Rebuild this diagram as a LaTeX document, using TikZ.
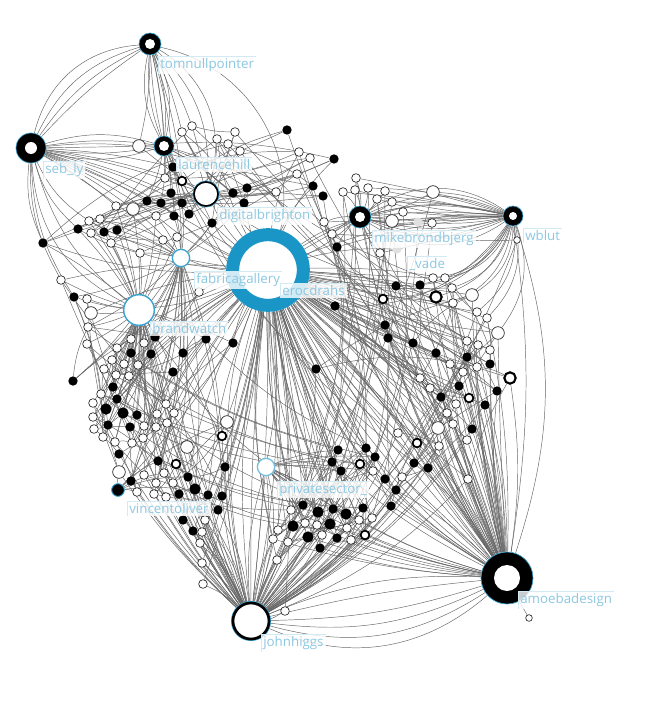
\documentclass[tikz,border=0pt]{standalone}
\usepackage{fontspec}
\setmainfont{Open Sans}
\usetikzlibrary{backgrounds}

\definecolor{ringblue}{HTML}{1A96C6}
\definecolor{hubblue}{HTML}{3BA3CF}
\definecolor{lblblue}{HTML}{8CC8E2}
\definecolor{lblrulecol}{HTML}{D2EAF4}

\tikzset{
  link/.style={draw=black!60, line width=0.35pt},
  wn/.style={circle, draw=black!85, fill=white, line width=0.5pt, inner sep=0pt, minimum size=6.5pt},
  wl/.style={wn, minimum size=9.5pt},
  ws/.style={wn, minimum size=5pt},
  bn/.style={circle, fill=black, inner sep=0pt, minimum size=7pt},
  bl/.style={bn, minimum size=8.5pt},
  rn/.style={circle, draw=black, fill=white, line width=1.3pt, inner sep=0pt, minimum size=6.5pt},
  rl/.style={rn, line width=1.6pt, minimum size=8.5pt},
  gn/.style={circle, fill=black!12, inner sep=0pt, minimum size=7pt},
  hub/.style 2 args={circle, inner sep=0pt, minimum size=#1, fill=black, draw=hubblue, line width=0.5pt,
    path picture={\fill[white] (path picture bounding box.center) circle (#2);}},
  openhub/.style={circle, inner sep=0pt, fill=white, draw=hubblue, line width=1pt},
  lblrule/.style={draw=lblrulecol, line width=0.6pt},
  lbl/.style={anchor=north west, text=lblblue, font=\fontsize{10}{12}\selectfont, inner sep=1.5pt,
    fill=white, fill opacity=0.8, text opacity=1,
    append after command={(\tikzlastnode.south west) edge[lblrule] (\tikzlastnode.north west)
      (\tikzlastnode.north west) edge[lblrule] (\tikzlastnode.north east)}},
}

\begin{document}
\begin{tikzpicture}[x=0.75pt, y=-0.75pt]
  \useasboundingbox (0,0) rectangle (646,720);

  % hubs
  \node[hub={16.5pt}{3.75pt}] (tom) at (150,44) {};
  \node[hub={22.5pt}{4.5pt}] (seb) at (31,148) {};
  \node[hub={15pt}{3.75pt}] (laurence) at (164,146) {};
  \node[hub={16.5pt}{3.75pt}] (mike) at (360,217) {};
  \node[hub={15pt}{3pt}] (wblut) at (513,216) {};
  \node[hub={39pt}{9.75pt}] (amoeba) at (507,578) {};
  \node[circle, inner sep=0pt, minimum size=53pt, draw=ringblue, line width=9.75pt, fill=white] (shard) at (268,270) {};
  \node[circle, inner sep=0pt, minimum size=27pt, fill=white, draw=black, line width=2pt,
    preaction={draw=hubblue, line width=3pt}] (john) at (251,621) {};
  \node[circle, inner sep=0pt, minimum size=18pt, fill=white, draw=black, line width=1.2pt,
    preaction={draw=hubblue, line width=2.2pt}] (digital) at (206,194) {};
  \node[openhub, minimum size=23pt, line width=1.1pt] (brand) at (139,310) {};
  \node[openhub, minimum size=13pt] (fabrica) at (181,258) {};
  \node[openhub, minimum size=13pt, draw=hubblue!70] (privsec) at (266,467) {};
  \node[circle, inner sep=0pt, minimum size=9.5pt, fill=black, draw=hubblue, line width=0.7pt] (vincent) at (118,490) {};
  \node[gn] (vade) at (397,249) {};

  % small nodes, top left
  \foreach \x/\y/\s [count=\i] in {139/146/wl, 182/132/wn, 192/126/wn, 235/132/wn, 287/130/bn,
      217/139/wn, 228/144/wn, 240/151/wn, 299/152/wn, 310/158/wn, 297/174/wn, 313/186/bn,
      323/196/bn, 182/181/rn, 173/167/bn, 165/178/wn, 171/193/bn, 161/203/bn, 182/203/bn,
      189/214/bn, 174/216/bn, 147/201/bn, 233/193/bn, 247/188/bn, 244/203/bn, 276/192/wn,
      212/223/bn, 116/206/wn, 133/209/wl, 89/221/wn, 100/219/wn, 78/229/bn, 91/233/wn,
      104/232/bn, 117/230/bn, 43/243/bn, 163/240/wn, 177/237/wn, 156/216/wn, 111/243/wn,
      140/253/wn, 334/159/bn}
    \node[\s] (a\i) at (\x,\y) {};
  % small nodes, top right
  \foreach \x/\y/\s [count=\i] in {343/192/wn, 355/190/wn, 368/188/wn, 385/191/wn, 377/199/wn,
      392/202/wn, 403/212/wn, 433/192/wl, 392/221/wl, 432/223/wn, 418/222/gn, 324/222/wn,
      332/234/wn, 337/247/bn, 380/253/wn, 517/240/ws, 356/178/wn}
    \node[\s] (b\i) at (\x,\y) {};
  % small nodes, right
  \foreach \x/\y/\s [count=\i] in {396/286/bn, 420/285/bn, 436/297/rl, 453/303/wn, 472/295/wl,
      383/299/rn, 335/306/bn, 433/278/wn, 445/278/wn, 452/288/wn, 477/312/wn, 487/318/wn,
      498/333/wl, 385/325/bn, 388/338/bn, 413/343/bn, 436/353/bn, 467/357/bn, 490/364/bn,
      467/341/wn, 478/345/wn, 490/350/wn, 450/364/wn, 463/372/wn, 477/367/wn, 510/378/rl,
      420/378/wn, 430/388/wn, 459/386/bn, 441/397/bn, 497/391/bn, 485/405/bn, 469/398/rn,
      456/404/wn, 447/413/wn, 453/424/wn, 438/428/wl, 472/429/bn, 398/433/wn, 417/443/rn,
      467/440/wn, 439/446/wn, 414/463/bn, 428/468/bn, 468/479/wn, 316/369/bn, 402/477/wn,
      385/479/bn, 396/490/bn, 391/506/bn}
    \node[\s] (c\i) at (\x,\y) {};
  % small nodes, left
  \foreach \x/\y/\s [count=\i] in {61/280/wn, 74/297/bn, 87/299/wn, 91/313/wl, 88/327/wn,
      87/344/wn, 199/292/wn, 155/337/bn, 206/339/bn, 233/343/bn, 131/339/wn, 144/343/wn,
      117/348/wn, 131/353/bn, 151/354/bn, 183/353/bn, 112/360/wn, 124/364/wn, 138/365/wn,
      73/381/bn, 104/369/wn, 116/375/wn, 129/376/wn, 113/387/bn, 101/394/wn, 117/399/bn,
      93/403/wn, 106/409/bl, 123/413/bl, 137/415/bn, 93/417/wn, 108/425/bn, 130/427/bn,
      94/429/wn, 103/437/wn, 115/442/wn, 132/443/wn, 143/438/wn, 144/426/wn, 156/427/wn,
      157/414/wn, 167/423/wn, 166/404/wn, 174/413/wn, 173/372/bn, 227/422/wl, 222/436/rn,
      187/447/wl, 158/461/bn, 176/464/rn, 119/454/bn, 119/472/wl, 131/481/bn, 144/475/wn,
      164/473/wn, 156/483/wn, 173/483/wn, 188/477/bn, 195/489/bl, 179/494/bn, 208/495/bn,
      222/496/bn, 225/467/bn, 137/492/wn, 154/494/wn, 166/497/wn}
    \node[\s] (d\i) at (\x,\y) {};
  % small nodes, bottom middle
  \foreach \x/\y/\s [count=\i] in {338/450/bn, 366/448/bn, 375/457/bn, 332/462/bn, 360/464/rn,
      373/471/wn, 341/471/bn, 303/505/bn, 318/512/bl, 333/509/bn, 346/514/bl, 363/508/bn,
      291/510/wn, 293/526/bl, 305/523/wn, 317/525/wn, 330/524/bl, 347/528/wn, 359/520/wn,
      372/518/wn, 308/537/bl, 322/535/wn, 337/538/bn, 351/540/wn, 365/535/rn, 278/530/wn,
      273/539/wn, 288/542/wn, 320/548/bn, 277/560/wn}
    \node[\s] (e\i) at (\x,\y) {};
  % small nodes, bottom left and strays
  \foreach \x/\y/\s [count=\i] in {218/510/bn, 183/520/bn, 193/531/bn, 205/520/wn, 203/508/wn,
      202/532/wn, 200/543/wn, 202/563/wn, 203/584/wn, 285/611/wn, 529/618/ws}
    \node[\s] (f\i) at (\x,\y) {};

  \begin{pgfonlayer}{background}
    % top left triangle
    \foreach \b in {6,14,24,36} \draw[link] (tom) to[bend right=\b] (seb);
    \foreach \b in {-20,-12,-5,5,12,20} \draw[link] (tom) to[bend left=\b] (laurence);
    \foreach \b in {-16,-8,0,8,16} \draw[link] (seb) to[bend left=\b] (laurence);
    \foreach \t in {a1,a2,a3,a14,a16,a15} \draw[link] (tom) to[bend left=6] (\t);
    \foreach \b in {25,38} \draw[link] (tom) to[bend left=\b] (digital);
    \draw[link] (tom) to[bend left=45] (shard);
    \foreach \t in {a1,a14,a15,a17,a18,a19,a22,a28,a29,a39,digital,fabrica,shard}
      \draw[link] (seb) to[bend left=5] (\t);
    \foreach \b in {18,30} \draw[link] (seb) to[bend right=\b] (brand);
    \foreach \t in {a30,a32,a36,d1,d2} \draw[link] (seb) to[bend right=15] (\t);

    % around digitalbrighton and laurencehill
    \foreach \i in {1,...,42} {
      \pgfmathtruncatemacro\j{mod(\i*11,42)+1}
      \pgfmathtruncatemacro\bb{mod(\i*13,30)-15}
      \draw[link] (a\i) to[bend left=\bb] (a\j);
    }
    \foreach \i in {2,4,...,42} \draw[link] (digital) to[bend right=8] (a\i);
    \foreach \i in {14,...,27} \draw[link] (laurence) to[bend left=6] (a\i);
    \foreach \i in {3,6,...,42} \draw[link] (shard) to[bend left=10] (a\i);

    % mikebrondbjerg and wblut
    \foreach \b in {-34,-24,-14,-5,5,14,24,34} \draw[link] (mike) to[bend left=\b] (wblut);
    \foreach \i in {1,...,17} {
      \pgfmathtruncatemacro\bb{mod(\i*9,24)-12}
      \draw[link] (wblut) to[bend left=\bb] (b\i);
    }
    \foreach \i in {1,...,17} \draw[link] (mike) to[bend right=10] (b\i);
    \foreach \i in {1,...,13} \draw[link] (wblut) to[bend left=28] (c\i);
    \foreach \b in {-8,0,8} \draw[link] (mike) to[bend left=\b] (shard);
    \foreach \b in {10,22} \draw[link] (wblut) to[bend right=\b] (shard);

    % big ring
    \foreach \i in {1,...,30} {
      \pgfmathtruncatemacro\bb{mod(\i*7,21)-10}
      \draw[link] (shard) to[bend left=\bb] (e\i);
    }
    \foreach \i in {1,...,50} {
      \pgfmathtruncatemacro\bb{mod(\i*5,16)-8}
      \draw[link] (shard) to[bend left=\bb] (c\i);
    }
    \foreach \i in {1,4,...,66} \draw[link] (shard) to[bend right=8] (d\i);
    \foreach \i in {1,...,11} \draw[link] (shard) to[bend left=6] (f\i);
    \foreach \b in {-14,-8,-3,3,8,14} \draw[link] (shard) to[bend left=\b] (john);
    \foreach \b in {-18,-10,-4,4,10,18} \draw[link] (shard) to[bend left=\b] (amoeba);
    \foreach \t in {privsec,brand,fabrica,digital,vade,vincent} \draw[link] (shard) to[bend left=8] (\t);

    % johnhiggs
    \foreach \i in {1,...,30} {
      \pgfmathtruncatemacro\bb{mod(\i*11,24)-12}
      \draw[link] (john) to[bend left=\bb] (e\i);
    }
    \foreach \i in {40,...,66} \draw[link] (john) to[bend left=6] (d\i);
    \foreach \i in {1,...,10} \draw[link] (john) to[bend right=10] (f\i);
    \foreach \i in {36,...,50} \draw[link] (john) to[bend right=12] (c\i);
    \foreach \b in {-10,0,10} \draw[link] (john) to[bend left=\b] (privsec);
    \foreach \b in {6,16} \draw[link] (john) to[bend left=\b] (brand);
    \draw[link] (john) to[bend left=10] (fabrica);
    \foreach \b in {8,16,24,32} \draw[link] (john) to[bend right=\b] (amoeba);
    \foreach \b in {4,12} \draw[link] (john) to[bend left=\b] (amoeba);

    % amoebadesign
    \foreach \i in {1,...,50} {
      \pgfmathtruncatemacro\bb{mod(\i*7,20)-10}
      \draw[link] (amoeba) to[bend left=\bb] (c\i);
    }
    \foreach \i in {1,3,...,29} \draw[link] (amoeba) to[bend left=6] (e\i);
    \foreach \b in {-10,0,10} \draw[link] (amoeba) to[bend left=\b] (mike);
    \foreach \b in {8,18} \draw[link] (amoeba) to[bend right=\b] (wblut);
    \foreach \i in {1,5,...,17} \draw[link] (amoeba) to[bend left=12] (b\i);

    % brandwatch and the left cluster
    \foreach \i in {1,...,45} \draw[link] (brand) to[bend left=5] (d\i);
    \foreach \i in {28,...,41} \draw[link] (brand) to[bend right=5] (a\i);
    \foreach \i in {1,...,66} {
      \pgfmathtruncatemacro\j{mod(\i*17,66)+1}
      \pgfmathtruncatemacro\bb{mod(\i*13,30)-15}
      \draw[link] (d\i) to[bend left=\bb] (d\j);
    }
    \foreach \i in {2,5,...,66} \draw[link] (fabrica) to[bend left=8] (d\i);
    \foreach \i in {15,17,...,41} \draw[link] (fabrica) to[bend right=6] (a\i);
    \foreach \i in {46,49,...,66} \draw[link] (vincent) to[bend left=10] (d\i);

    % right and bottom clusters
    \foreach \i in {1,...,50} {
      \pgfmathtruncatemacro\j{mod(\i*19,50)+1}
      \pgfmathtruncatemacro\bb{mod(\i*13,30)-15}
      \draw[link] (c\i) to[bend left=\bb] (c\j);
    }
    \foreach \i in {1,...,30} {
      \pgfmathtruncatemacro\j{mod(\i*7,30)+1}
      \pgfmathtruncatemacro\bb{mod(\i*11,30)-15}
      \draw[link] (e\i) to[bend left=\bb] (e\j);
    }
    \foreach \i in {1,3,...,30} \draw[link] (privsec) to[bend left=8] (e\i);

    % long links across the middle
    \foreach \i in {1,...,15} {
      \pgfmathtruncatemacro\j{mod(\i*3,50)+1}
      \draw[link] (a\i) to[bend right=12] (c\j);
    }
    \foreach \i in {1,...,15} {
      \pgfmathtruncatemacro\j{mod(\i*4,66)+1}
      \draw[link] (e\i) to[bend left=10] (d\j);
    }
    \foreach \i in {1,...,17} {
      \pgfmathtruncatemacro\j{mod(\i*7,30)+1}
      \draw[link] (b\i) to[bend left=10] (e\j);
    }
  \end{pgfonlayer}

  % labels
  \node[lbl] (tomlbl) at (158,56) {tomnullpointer};
  \node[lbl] (seblbl) at (43,161) {seb\_ly};
  \node[lbl] (laurencelbl) at (176,157) {laurencehill};
  \node[lbl] (digitallbl) at (217,207) {digitalbrighton};
  \node[lbl] (fabricalbl) at (194,271) {fabricagallery};
  \node[lbl] (shardlbl) at (280,283) {erocdrahs};
  \node[lbl] (brandlbl) at (150,321) {brandwatch};
  \node[lbl] (mikelbl) at (372,230) {mikebrondbjerg};
  \node[lbl] (vadelbl) at (407,256) {\_vade};
  \node[lbl] (wblutlbl) at (523,228) {wblut};
  \node[lbl] (privseclbl) at (277,481) {privatesector\_};
  \node[lbl] (vincentlbl) at (127,501) {vincentoliver};
  \node[lbl] (johnlbl) at (261,634) {johnhiggs};
  \node[lbl] (amoebalbl) at (518,591) {amoebadesign};
\end{tikzpicture}
\end{document}
